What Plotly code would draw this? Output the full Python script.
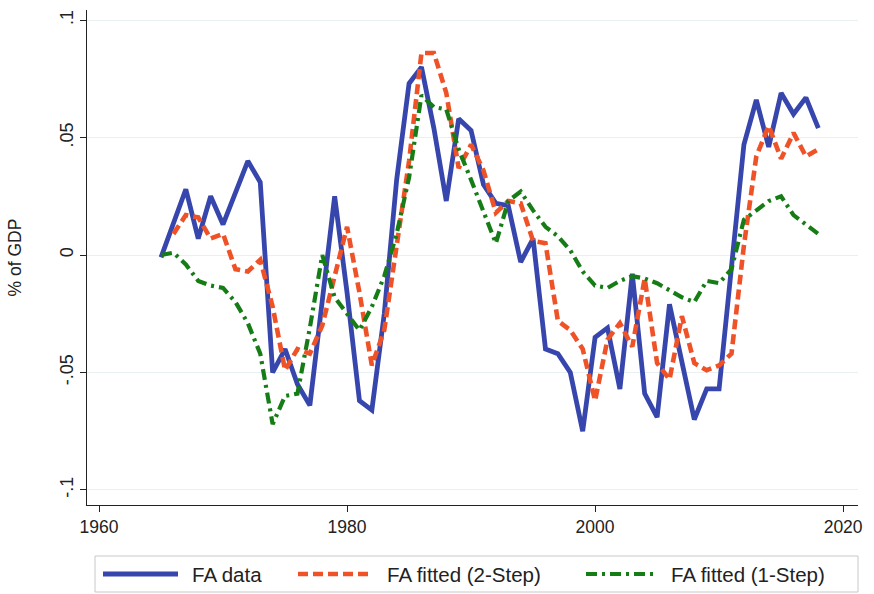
import plotly.graph_objects as go

# ---------------- data ----------------
years = list(range(1965, 2019))

fa_data = [
    -0.001, 0.013, 0.028, 0.007, 0.025, 0.013, 0.026, 0.040, 0.031, -0.050,
    -0.040, -0.055, -0.064, -0.020, 0.025, -0.016, -0.062, -0.066, -0.025, 0.032,
    0.073, 0.080, 0.054, 0.023, 0.058, 0.053, 0.030, 0.022, 0.021, -0.003,
    0.007, -0.040, -0.042, -0.050, -0.075, -0.035, -0.031, -0.057, -0.008, -0.059,
    -0.069, -0.021, -0.045, -0.070, -0.057, -0.057, -0.005, 0.047, 0.066, 0.046,
    0.069, 0.060, 0.067, 0.054,
]

fa_fit_2step = [
    None, 0.009, 0.017, 0.016, 0.007, 0.009, -0.006, -0.007, -0.002, -0.022,
    -0.049, -0.040, -0.042, -0.030, -0.008, 0.012, -0.016, -0.047, -0.032, 0.003,
    0.040, 0.086, 0.086, 0.069, 0.037, 0.047, 0.036, 0.018, 0.023, 0.022,
    0.006, 0.005, -0.028, -0.032, -0.040, -0.062, -0.036, -0.029, -0.039, -0.010,
    -0.046, -0.053, -0.026, -0.046, -0.049, -0.047, -0.042, 0.004, 0.042, 0.055,
    0.041, 0.052, 0.042, 0.045,
]

fa_fit_1step = [
    0.000, 0.001, -0.004, -0.011, -0.013, -0.014, -0.020, -0.029, -0.042, -0.072,
    -0.060, -0.059, -0.031, 0.000, -0.018, -0.025, -0.032, -0.022, -0.009, 0.009,
    0.033, 0.068, 0.063, 0.062, 0.045, 0.032, 0.018, 0.005, 0.023, 0.027,
    0.019, 0.012, 0.008, 0.002, -0.007, -0.013, -0.014, -0.011, -0.009, -0.010,
    -0.012, -0.015, -0.018, -0.020, -0.011, -0.012, -0.006, 0.015, 0.019, 0.023,
    0.025, 0.017, 0.013, 0.009,
]

x_ticks = [1960, 1980, 2000, 2020]
y_ticks = [-0.1, -0.05, 0, 0.05, 0.1]
y_tick_labels = ["-.1", "-.05", "0", ".05", ".1"]

series = [
    ("FA data", fa_data, "rgb(55,70,172)", "solid", 4.8),
    ("FA fitted (2-Step)", fa_fit_2step, "rgb(240,82,40)", "10px,5px", 4.6),
    ("FA fitted (1-Step)", fa_fit_1step, "rgb(22,125,22)", "11px,5px,3px,5px", 4.2),
]

# ---------------- figure ----------------
W, H = 874, 594
L, R, T, B = 87, 16, 10, 89
PW, PH = W - L - R, H - T - B

def px(xp):
    return (xp - L) / PW

def py(yp):
    return (H - B - yp) / PH

fig = go.Figure()
for name, vals, color, dash, width in series:
    fig.add_trace(go.Scatter(
        x=years, y=vals, name=name, mode="lines",
        line=dict(color=color, dash=dash, width=width),
        connectgaps=False, showlegend=False,
    ))

font_family = "Liberation Sans, Arial, sans-serif"
axis_color = "#222222"
grid_color = "#e8f0f2"

fig.update_layout(
    width=W, height=H,
    margin=dict(l=L, r=R, t=T, b=B),
    paper_bgcolor="white", plot_bgcolor="white",
    font=dict(family=font_family, size=17, color="#222222"),
    xaxis=dict(
        range=[1959.03, 2021.2], tickmode="array", tickvals=x_ticks,
        ticks="outside", ticklen=6, tickwidth=1.3, tickcolor=axis_color,
        showline=True, linecolor=axis_color, linewidth=1.3,
        showgrid=False, zeroline=False, mirror=False,
        tickfont=dict(size=17.5),
    ),
    yaxis=dict(
        range=[-0.1064, 0.1043], tickmode="array", tickvals=y_ticks,
        ticktext=y_tick_labels, tickangle=-90,
        ticks="outside", ticklen=6, tickwidth=1.3, tickcolor=axis_color,
        showline=True, linecolor=axis_color, linewidth=1.3,
        showgrid=True, gridcolor=grid_color, gridwidth=1,
        zeroline=False, tickfont=dict(size=18),
        title=dict(text="% of GDP", standoff=30, font=dict(size=17.5)),
    ),
)

# ---------------- legend (drawn manually, Stata style) ----------------
shapes = [dict(type="rect", xref="paper", yref="paper",
               x0=px(95), x1=px(858), y0=py(592), y1=py(556),
               line=dict(color="#c8c8c8", width=1), fillcolor="white", layer="below")]
annotations = []
legend_pos = [(103, 178, 190), (298, 372, 385), (586, 657, 669)]
ly = py(574)
for (name, vals, color, dash, width), (s0, s1, tx) in zip(series, legend_pos):
    shapes.append(dict(type="line", xref="paper", yref="paper",
                       x0=px(s0), x1=px(s1), y0=ly, y1=ly,
                       line=dict(color=color, dash=dash, width=width)))
    annotations.append(dict(text=name, xref="paper", yref="paper",
                            x=px(tx), y=ly, xanchor="left", yanchor="middle",
                            showarrow=False, font=dict(size=20.5)))
fig.update_layout(shapes=shapes, annotations=annotations)

fig.write_html("out.html")
